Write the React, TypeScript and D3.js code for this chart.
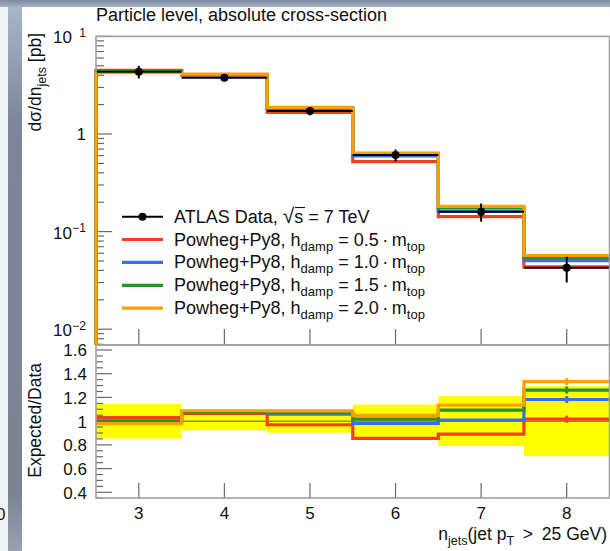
import React from "react";
import * as d3 from "d3";

// Jet multiplicity bins (bin centres) and edges
const NJETS = [3, 4, 5, 6, 7, 8];
const BIN_EDGES = [2.5, 3.5, 4.5, 5.5, 6.5, 7.5, 8.5];

// Measured cross-section [pb] and its total uncertainty
const DATA = [4.35, 3.77, 1.72, 0.609, 0.16, 0.0427];
const DATA_ERR = [0.64, 0.29, 0.167, 0.085, 0.0336, 0.0126];

// Powheg+Pythia8 predictions [pb] for several hdamp settings
const MC_HDAMP_05 = [4.48, 4.02, 1.668, 0.521, 0.1424, 0.0434];
const MC_HDAMP_10 = [4.35, 4.05, 1.82, 0.597, 0.1613, 0.0505];
const MC_HDAMP_15 = [4.35, 4.07, 1.84, 0.619, 0.1749, 0.0539];
const MC_HDAMP_20 = [4.26, 4.1, 1.87, 0.639, 0.1816, 0.0569];

const HDAMP_LABELS = ["0.5", "1.0", "1.5", "2.0"];
const SERIES_COLORS = ["#f2401f", "#3b6df0", "#22952a", "#ffa000"];

const UPPER_TICKS = [0.01, 0.1, 1, 10];
const RATIO_TICKS = [0.4, 0.6, 0.8, 1, 1.2, 1.4, 1.6];

const W = 610;
const H = 551;
const FONT = "'Liberation Sans', Arial, Helvetica, sans-serif";

const LEFT = 96;
const RIGHT = 609.5;
const TOP = 36.4;
const MID = 345;
const BOTTOM = 498;

export default function App() {
  const x = d3.scaleLinear().domain([2.5, 8.5]).range([LEFT, RIGHT]);
  const yTop = d3
    .scaleLog()
    .domain([Math.pow(10, -2.162), 10])
    .range([MID, TOP]);
  const yRat = d3.scaleLinear().domain([0.352, 1.642]).range([BOTTOM, MID]);

  const series = [MC_HDAMP_05, MC_HDAMP_10, MC_HDAMP_15, MC_HDAMP_20];
  const ratios = series.map((s) => s.map((v, i) => v / DATA[i]));
  const relErr = DATA_ERR.map((e, i) => e / DATA[i]);

  const line = d3.line<[number, number]>();

  const stepPoints = (vals: number[], y: (v: number) => number) =>
    vals.flatMap((v, i) => [
      [x(BIN_EDGES[i]), y(v)] as [number, number],
      [x(BIN_EDGES[i + 1]), y(v)] as [number, number],
    ]);

  // minor log ticks in the upper panel
  const [lo, hi] = yTop.domain();
  const logMinor: number[] = [];
  for (let e = -3; e <= 1; e++) {
    for (let k = 2; k <= 9; k++) {
      const v = k * Math.pow(10, e);
      if (v >= lo && v <= hi) logMinor.push(v);
    }
  }
  const ratioMinor: number[] = [];
  for (let v = 0.35; v <= 1.641; v += 0.05) {
    const r = Math.round(v * 100) / 100;
    if (Math.abs(Math.round(r * 5) - r * 5) > 1e-6) ratioMinor.push(r);
  }

  const tickColor = "#6a6a6a";
  const frameColor = "#a0a0a0";

  return (
    <svg
      width={W}
      height={H}
      style={{ position: "absolute", left: 0, top: 0, background: "#fff" }}
      fontFamily={FONT}
    >
      <defs>
        <linearGradient id="strip" x1="0" y1="0" x2="0" y2="1">
          <stop offset="0" stopColor="#a9b8d0" />
          <stop offset="0.22" stopColor="#7e8799" />
          <stop offset="0.9" stopColor="#7c8494" />
          <stop offset="1" stopColor="#9aa2b2" />
        </linearGradient>
        <linearGradient id="topbar" x1="0" y1="0" x2="0" y2="1">
          <stop offset="0" stopColor="#7d8aa0" />
          <stop offset="1" stopColor="#a4afc0" />
        </linearGradient>
      </defs>

      {/* window chrome around the canvas */}
      <rect x={0} y={0} width={W} height={H} fill="#ffffff" />
      <rect x={0} y={0} width={8} height={H} fill="#f1f3f6" />
      <rect x={8} y={0} width={14} height={H} fill="url(#strip)" />
      <rect x={0} y={0} width={W} height={7} fill="url(#topbar)" />
      <text x={-4} y={520} fontSize={17} fill="#222">
        0
      </text>

      {/* title */}
      <text x={96} y={21} fontSize={18} fill="#111">
        Particle level, absolute cross-section
      </text>

      {/* ===== upper panel ===== */}
      {UPPER_TICKS.map((t) => (
        <line
          key={"ut" + t}
          x1={LEFT}
          x2={LEFT + 16}
          y1={yTop(t)}
          y2={yTop(t)}
          stroke={tickColor}
          strokeWidth={1.2}
        />
      ))}
      {logMinor.map((t) => (
        <line
          key={"um" + t}
          x1={LEFT}
          x2={LEFT + 8}
          y1={yTop(t)}
          y2={yTop(t)}
          stroke={tickColor}
          strokeWidth={1.2}
        />
      ))}
      {NJETS.map((n) => (
        <line
          key={"uxt" + n}
          x1={x(n)}
          x2={x(n)}
          y1={MID}
          y2={MID - 16}
          stroke={tickColor}
          strokeWidth={1.2}
        />
      ))}
      {UPPER_TICKS.map((t) => {
        const yy = yTop(t);
        if (t === 1)
          return (
            <text key={"ul" + t} x={86} y={yy + 6} fontSize={17} textAnchor="end" fill="#111">
              1
            </text>
          );
        const exp = Math.round(Math.log10(t));
        return (
          <g key={"ul" + t} fill="#111">
            <text x={72} y={yy + 7} fontSize={17} textAnchor="end">
              10
            </text>
            <text x={86} y={yy + 0.5} fontSize={12} textAnchor="end">
              {exp < 0 ? "\u2212" + -exp : String(exp)}
            </text>
          </g>
        );
      })}
      <text
        transform={`translate(41,33) rotate(-90)`}
        fontSize={17.5}
        textAnchor="end"
        fill="#111"
      >
        <tspan>dσ/dn</tspan>
        <tspan fontSize={12.5} dy={5}>
          jets
        </tspan>
        <tspan dy={-5}> [pb]</tspan>
      </text>

      {/* predictions */}
      {series.map((s, k) => (
        <path
          key={"mc" + k}
          d={line([[x(BIN_EDGES[0]), MID], ...stepPoints(s, yTop)]) || ""}
          fill="none"
          stroke={SERIES_COLORS[k]}
          strokeWidth={3.2}
          strokeLinejoin="miter"
        />
      ))}

      {/* data */}
      {DATA.map((v, i) => (
        <g key={"d" + i} stroke="#000" strokeWidth={2}>
          <line x1={x(BIN_EDGES[i])} x2={x(BIN_EDGES[i + 1])} y1={yTop(v)} y2={yTop(v)} />
          <line
            x1={x(NJETS[i])}
            x2={x(NJETS[i])}
            y1={yTop(v + DATA_ERR[i])}
            y2={yTop(v - DATA_ERR[i])}
          />
          <circle cx={x(NJETS[i])} cy={yTop(v)} r={4} fill="#000" stroke="none" />
        </g>
      ))}

      {/* legend */}
      <g fontSize={18} fill="#111">
        <line x1={122} x2={163} y1={216.7} y2={216.7} stroke="#000" strokeWidth={2} />
        <circle cx={142.5} cy={216.7} r={4} fill="#000" />
        <text x={174} y={222.7}>
          <tspan>ATLAS Data, </tspan>
          <tspan fontSize={21}>√</tspan>
          <tspan>s = 7 TeV</tspan>
        </text>
        {/* radical bar over the s */}
        <line x1={295} x2={305} y1={207.5} y2={207.5} stroke="#111" strokeWidth={1.1} />
        {HDAMP_LABELS.map((lab, k) => {
          const yy = 239.5 + k * 22.9;
          return (
            <g key={"lg" + k}>
              <line x1={122} x2={163} y1={yy} y2={yy} stroke={SERIES_COLORS[k]} strokeWidth={3.2} />
              <text x={174} y={yy + 6}>
                <tspan>Powheg+Py8, h</tspan>
                <tspan fontSize={13} dy={5}>
                  damp
                </tspan>
                <tspan dy={-5}>{` = ${lab}\u2009·\u2009m`}</tspan>
                <tspan fontSize={13} dy={5}>
                  top
                </tspan>
              </text>
            </g>
          );
        })}
      </g>

      {/* ===== ratio panel ===== */}
      {relErr.map((e, i) => (
        <rect
          key={"band" + i}
          x={x(BIN_EDGES[i])}
          width={x(BIN_EDGES[i + 1]) - x(BIN_EDGES[i])}
          y={yRat(1 + e)}
          height={yRat(1 - e) - yRat(1 + e)}
          fill="#ffff00"
        />
      ))}
      <line x1={LEFT} x2={RIGHT} y1={yRat(1)} y2={yRat(1)} stroke="#333" strokeWidth={1} opacity={0.8} />
      {ratios.map((r, k) => (
        <g key={"rat" + k}>
          <path
            d={line(stepPoints(r, yRat)) || ""}
            fill="none"
            stroke={SERIES_COLORS[k]}
            strokeWidth={3.2}
          />
          <line
            x1={x(NJETS[5])}
            x2={x(NJETS[5])}
            y1={yRat(r[5]) - 3.5}
            y2={yRat(r[5]) + 3.5}
            stroke={SERIES_COLORS[k]}
            strokeWidth={3}
          />
        </g>
      ))}

      {RATIO_TICKS.map((t) => (
        <line
          key={"rt" + t}
          x1={LEFT}
          x2={LEFT + 16}
          y1={yRat(t)}
          y2={yRat(t)}
          stroke={tickColor}
          strokeWidth={1.2}
        />
      ))}
      {ratioMinor.map((t) => (
        <line
          key={"rm" + t}
          x1={LEFT}
          x2={LEFT + 7}
          y1={yRat(t)}
          y2={yRat(t)}
          stroke={tickColor}
          strokeWidth={1.2}
        />
      ))}
      {RATIO_TICKS.map((t) => (
        <text key={"rl" + t} x={87} y={yRat(t) + 6.5} fontSize={17} textAnchor="end" fill="#111">
          {String(t)}
        </text>
      ))}
      {NJETS.map((n) => (
        <line
          key={"rxt" + n}
          x1={x(n)}
          x2={x(n)}
          y1={BOTTOM}
          y2={BOTTOM - 15}
          stroke={tickColor}
          strokeWidth={1.2}
        />
      ))}
      {NJETS.map((n) => (
        <text key={"xl" + n} x={x(n)} y={519} fontSize={17} textAnchor="middle" fill="#111">
          {n}
        </text>
      ))}
      <text
        transform={`translate(41,363) rotate(-90)`}
        fontSize={17.5}
        textAnchor="end"
        fill="#111"
      >
        Expected/Data
      </text>
      <text x={607} y={540} fontSize={17.5} textAnchor="end" fill="#111">
        <tspan>n</tspan>
        <tspan fontSize={12.5} dy={5}>
          jets
        </tspan>
        <tspan dy={-5}>(jet p</tspan>
        <tspan fontSize={12.5} dy={5}>
          T
        </tspan>
        <tspan dy={-5}>{"\u2002>\u200225 GeV)"}</tspan>
      </text>

      {/* frames */}
      <rect
        x={LEFT}
        y={TOP}
        width={RIGHT - LEFT}
        height={MID - TOP}
        fill="none"
        stroke={frameColor}
        strokeWidth={1.6}
      />
      <rect
        x={LEFT}
        y={MID}
        width={RIGHT - LEFT}
        height={BOTTOM - MID}
        fill="none"
        stroke={frameColor}
        strokeWidth={1.6}
      />
      {/* first-bin edge of the last prediction runs down the left axis */}
      <line
        x1={x(BIN_EDGES[0])}
        x2={x(BIN_EDGES[0])}
        y1={yTop(MC_HDAMP_20[0])}
        y2={MID}
        stroke={SERIES_COLORS[3]}
        strokeWidth={2}
      />
    </svg>
  );
}
